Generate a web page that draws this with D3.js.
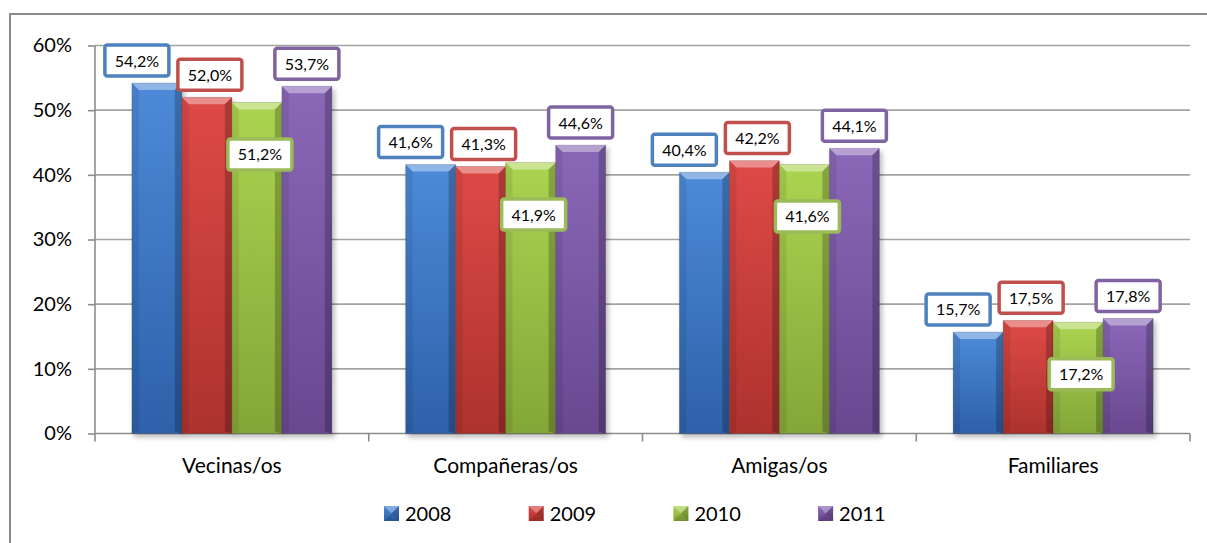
<!DOCTYPE html>
<html>
<head>
<meta charset="utf-8">
<script src="https://cdn.jsdelivr.net/npm/d3@7"></script>
<style>
  body { margin:0; background:#fff; }
  text { font-family: Lato, "Open Sans", sans-serif; fill:#000; }
</style>
</head>
<body>
<script>
// data
var categories = ["Vecinas/os", "Compañeras/os", "Amigas/os", "Familiares"];
var years = ["2008", "2009", "2010", "2011"];
var v2008 = [54.2, 41.6, 40.4, 15.7];
var v2009 = [52.0, 41.3, 42.2, 17.5];
var v2010 = [51.2, 41.9, 41.6, 17.2];
var v2011 = [53.7, 44.6, 44.1, 17.8];
var yTicks = [0, 10, 20, 30, 40, 50, 60];

var seriesValues = [v2008, v2009, v2010, v2011];

function main(){
    var w = 1207, h = 543;
    var left = 95, right = 1190, top = 45.5, bottom = 433.5;

    // colours: [top, bottom, border]
    var cols = [
        {top:"#4d8ad9", bot:"#2d61a9", line:"#4f81bd"},
        {top:"#de4a46", bot:"#ad322e", line:"#c0504d"},
        {top:"#abd450", bot:"#84a638", line:"#9bbb59"},
        {top:"#8a68b8", bot:"#694890", line:"#8064a2"}
    ];
    // label offsets per series (dx, dy from bar top centre)
    var lblDx = [-20, 3, 3, 0];
    var lblDy = [-22.5, -22.5, 52, -22.5];

    var svg = d3.select("body").append("svg")
        .attr("width", w).attr("height", h);

    var defs = svg.append("defs");
    cols.forEach(function(c, i){
        var g = defs.append("linearGradient").attr("id", "g" + i)
            .attr("x1", 0).attr("y1", 0).attr("x2", 0).attr("y2", 1);
        g.append("stop").attr("offset", "0%").attr("stop-color", c.top);
        g.append("stop").attr("offset", "100%").attr("stop-color", c.bot);
    });
    var sh = defs.append("filter").attr("id", "shadow")
        .attr("x", "-20%").attr("y", "-20%").attr("width", "140%").attr("height", "140%");
    sh.append("feGaussianBlur").attr("stdDeviation", 2.5);

    // outer frame
    svg.append("rect")
        .attr("x", 10).attr("y", 14).attr("width", 1205).attr("height", 560)
        .attr("fill", "none").attr("stroke", "#8c8c8c").attr("stroke-width", 2);

    var y = d3.scaleLinear().domain([0, 60]).range([bottom, top]);
    var x0 = d3.scaleBand().domain(categories).range([left, right]).paddingInner(0).paddingOuter(0);
    var x1 = d3.scaleBand().domain(years).range([0, 200]).padding(0);
    var groupOff = (x0.bandwidth() - 200) / 2;

    // gridlines
    svg.append("g").selectAll("line").data(yTicks.slice(1)).enter().append("line")
        .attr("x1", left).attr("x2", right)
        .attr("y1", d => y(d)).attr("y2", d => y(d))
        .attr("stroke", "#a3a3a3").attr("stroke-width", 1.6);

    // y axis
    var yAxis = d3.axisLeft(y).tickValues(yTicks).tickSize(7).tickPadding(16)
        .tickFormat(d => d + "%");
    var ga = svg.append("g").attr("transform", "translate(" + left + ",0)").call(yAxis);
    ga.select(".domain").remove();
    ga.selectAll(".tick line").attr("stroke", "#8c8c8c").attr("stroke-width", 1.6);
    ga.selectAll(".tick text").attr("font-size", 20).attr("font-family", "Lato").attr("fill", "#000");
    svg.append("line").attr("x1", left).attr("x2", left).attr("y1", top).attr("y2", bottom + 8)
        .attr("stroke", "#8c8c8c").attr("stroke-width", 1.6);

    // x axis
    svg.append("line").attr("x1", left).attr("x2", right).attr("y1", bottom).attr("y2", bottom)
        .attr("stroke", "#8c8c8c").attr("stroke-width", 1.6);
    var bounds = categories.map(c => x0(c) + x0.bandwidth());
    svg.append("g").selectAll("line").data(bounds).enter().append("line")
        .attr("x1", d => d).attr("x2", d => d).attr("y1", bottom).attr("y2", bottom + 8)
        .attr("stroke", "#8c8c8c").attr("stroke-width", 1.6);
    svg.append("g").selectAll("text").data(categories).enter().append("text")
        .attr("x", d => x0(d) + x0.bandwidth() / 2).attr("y", 473)
        .attr("text-anchor", "middle").attr("font-size", 21)
        .text(d => d);

    // bars
    var bars = [];
    categories.forEach(function(c, ci){
        years.forEach(function(yr, si){
            bars.push({cat:c, year:yr, si:si, v:seriesValues[si][ci]});
        });
    });
    bars.forEach(function(d){
        d.x = x0(d.cat) + groupOff + x1(d.year);
        d.w = x1.bandwidth();
        d.y = y(d.v);
        d.h = bottom - d.y;
    });

    // shadows
    svg.append("g").selectAll("rect").data(bars).enter().append("rect")
        .attr("x", d => d.x + 2).attr("y", d => d.y + 3)
        .attr("width", d => d.w + 1).attr("height", d => d.h + 1)
        .attr("fill", "#000").attr("opacity", 0.25).attr("filter", "url(#shadow)");

    var gb = svg.append("g").selectAll("g").data(bars).enter().append("g");
    gb.append("rect")
        .attr("x", d => d.x).attr("y", d => d.y)
        .attr("width", d => d.w).attr("height", d => d.h)
        .attr("fill", d => "url(#g" + d.si + ")");
    var bev = 7;
    // top bevel (light)
    gb.append("path")
        .attr("d", d => "M" + d.x + "," + d.y + "L" + (d.x + d.w) + "," + d.y +
            "L" + (d.x + d.w - bev) + "," + (d.y + bev) + "L" + (d.x + bev) + "," + (d.y + bev) + "Z")
        .attr("fill", "#fff").attr("opacity", 0.38);
    // left bevel
    gb.append("path")
        .attr("d", d => "M" + d.x + "," + d.y + "L" + (d.x + bev) + "," + (d.y + bev) +
            "L" + (d.x + bev) + "," + (bottom - 2) + "L" + d.x + "," + bottom + "Z")
        .attr("fill", "#000").attr("opacity", 0.08);
    // right bevel
    gb.append("path")
        .attr("d", d => "M" + (d.x + d.w) + "," + d.y + "L" + (d.x + d.w - bev) + "," + (d.y + bev) +
            "L" + (d.x + d.w - bev) + "," + (bottom - 2) + "L" + (d.x + d.w) + "," + bottom + "Z")
        .attr("fill", "#000").attr("opacity", 0.22);
    gb.append("rect")
        .attr("x", d => d.x).attr("y", d => d.y)
        .attr("width", d => d.w).attr("height", d => d.h)
        .attr("fill", "none").attr("stroke", "#000").attr("stroke-opacity", 0.15).attr("stroke-width", 0.8);

    // data labels
    var fmt = d3.format(".1f");
    var gl = svg.append("g").selectAll("g").data(bars).enter().append("g")
        .attr("transform", d => "translate(" + (d.x + d.w / 2 + lblDx[d.si]) + "," + (d.y + lblDy[d.si]) + ")");
    gl.append("rect")
        .attr("x", -32).attr("y", -15.5).attr("width", 64).attr("height", 31).attr("rx", 2.5)
        .attr("fill", "#fff").attr("stroke", d => cols[d.si].line).attr("stroke-width", 3.5);
    gl.append("text")
        .attr("text-anchor", "middle").attr("y", 6).attr("font-size", 16)
        .text(d => fmt(d.v).replace(".", ",") + "%");

    // legend
    var lg = svg.append("g").selectAll("g").data(years).enter().append("g")
        .attr("transform", (d, i) => "translate(" + (384 + i * 144.7) + ",506)");
    var s = 15;
    lg.append("rect").attr("width", s).attr("height", s).attr("fill", (d, i) => "url(#g" + i + ")");
    lg.append("path").attr("d", "M0,0L" + s + ",0L" + (s / 2) + "," + (s / 2) + "Z")
        .attr("fill", "#fff").attr("opacity", 0.3);
    lg.append("path").attr("d", "M" + s + ",0L" + s + "," + s + "L" + (s / 2) + "," + (s / 2) + "Z")
        .attr("fill", "#000").attr("opacity", 0.2);
    lg.append("path").attr("d", "M0," + s + "L" + s + "," + s + "L" + (s / 2) + "," + (s / 2) + "Z")
        .attr("fill", "#000").attr("opacity", 0.12);
    lg.append("text").attr("x", 21).attr("y", 14.5).attr("font-size", 20).text(d => d);
}

main();
</script>
</body>
</html>
